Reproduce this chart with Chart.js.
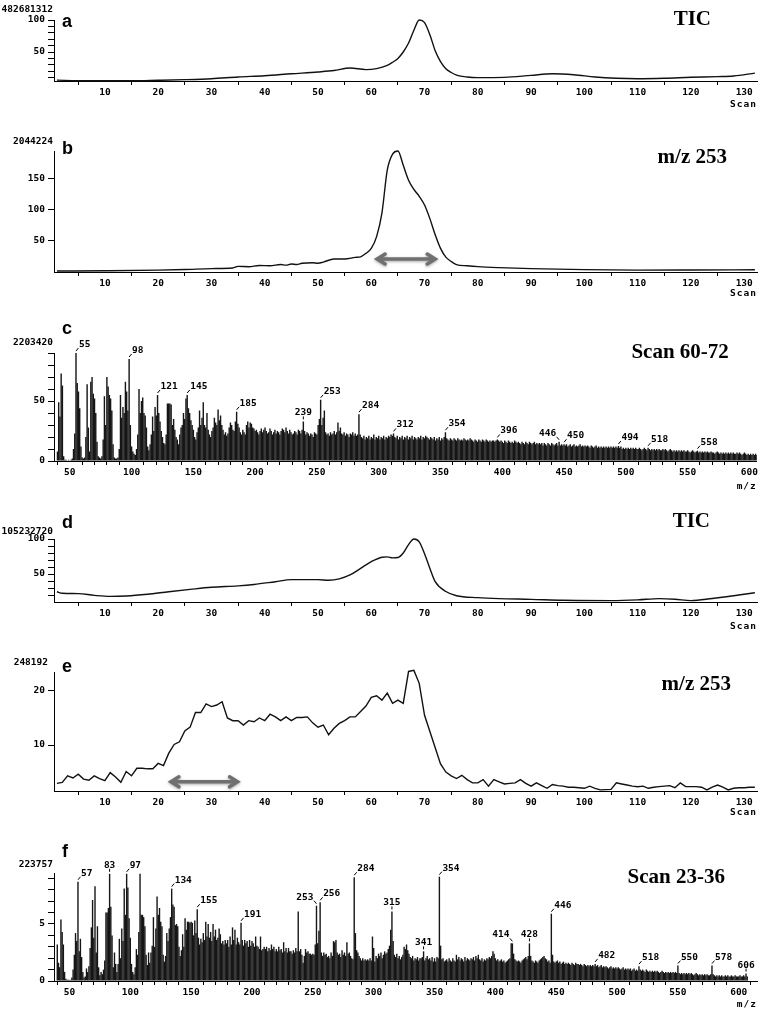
<!DOCTYPE html>
<html>
<head>
<meta charset="utf-8">
<script src="https://cdn.jsdelivr.net/npm/chart.js@4.4.1/dist/chart.umd.min.js"></script>
<style>
  html, body { margin: 0; padding: 0; background: #fff; }
  body { width: 760px; height: 1011px; position: relative; overflow: hidden; }
  canvas { position: absolute; left: 0; }
</style>
</head>
<body>
<canvas id="panelA" width="760" height="113" style="top:0px"></canvas>
<canvas id="panelB" width="760" height="189" style="top:115px"></canvas>
<canvas id="panelC" width="760" height="176" style="top:317px"></canvas>
<canvas id="panelD" width="760" height="131" style="top:503px"></canvas>
<canvas id="panelE" width="760" height="187" style="top:636px"></canvas>
<canvas id="panelF" width="760" height="176" style="top:837px"></canvas>
<script>
// ===== Data =====
// axis labels
const scanLabels = [10, 20, 30, 40, 50, 60, 70, 80, 90, 100, 110, 120, 130];
const mzLabels = [50, 100, 150, 200, 250, 300, 350, 400, 450, 500, 550, 600];

// a: TIC (first run)
const aScans  = [1, 5, 10, 15, 20, 25, 30, 35, 40, 45, 50, 53, 56, 59, 61, 63, 64, 65, 66, 67, 68, 69, 70, 71, 72, 73, 74, 75, 76, 78, 80, 85, 90, 94, 98, 102, 106, 110, 115, 120, 125, 128, 132];
const aValues = [6, 5.2, 5, 5, 5.8, 6.8, 8.3, 11, 13, 16, 18.8, 21, 25, 22.5, 24, 29, 34, 40, 50, 64, 84, 100, 96, 77, 52, 35, 24, 18, 14, 11, 10, 10.3, 13.5, 16, 14.5, 11, 9, 8.3, 9, 10.5, 11.5, 12.5, 17];
const aYTicks = [10, 20, 30, 40, 50, 60, 70, 80, 90, 100];

// b: m/z 253 (first run)
const bScans  = [1, 10, 20, 25, 30, 34, 35, 37, 39, 41, 43, 44, 45, 46, 47, 49, 50, 51, 53, 55, 57, 58, 59, 60, 61, 62, 63, 64, 65, 66, 67, 68, 69, 70, 71, 72, 73, 74, 75, 76, 78, 80, 84, 90, 100, 110, 120, 132];
const bValues = [1.5, 2, 3, 4, 5.5, 6.5, 9, 8.5, 10.5, 10, 12, 11, 13, 12, 14, 15, 14, 16, 21, 21, 23.5, 24.5, 30, 38, 57, 95, 164, 190, 195, 172, 148, 133, 122, 108, 86, 60, 38, 24, 17, 12, 10, 8.6, 7, 5.4, 3.8, 3, 3.2, 3.6];
const bYTicks = [50, 100, 150];

// c: spectrum scan 60-72, one value per m/z from 40
const cStart = 40;
const cSpectrum = [
  8, 49, 37, 73, 63, 4, 1, 1, 0, 1,
  0, 1, 2, 10, 23, 90, 65, 58, 44, 12,
  3, 2, 3, 20, 64, 28, 8, 66, 70, 56,
  52, 40, 16, 4, 3, 2, 4, 18, 54, 30,
  70, 62, 55, 52, 42, 14, 3, 2, 2, 3,
  10, 55, 36, 45, 40, 66, 58, 42, 85, 30,
  12, 8, 6, 5, 10, 22, 60, 40, 50, 53,
  40, 38, 28, 12, 9, 14, 22, 37, 25, 45,
  38, 55, 40, 33, 25, 20, 15, 14, 22, 48,
  48, 48, 47, 30, 35, 26, 20, 18, 14, 22,
  28, 30, 40, 35, 52, 55, 44, 40, 34, 30,
  26, 20, 18, 24, 28, 42, 30, 36, 49, 30,
  28, 40, 26, 22, 20, 25, 28, 36, 32, 30,
  43, 34, 38, 30, 26, 22, 24, 21, 23, 28,
  32, 30, 26, 25, 33, 41, 31, 28, 24, 22,
  26, 24, 22, 30, 33, 28, 32, 31, 28, 27,
  25, 26, 24, 22, 25, 27, 24, 26, 28, 25,
  23, 24, 27, 25, 22, 24, 26, 23, 25, 24,
  22, 25, 27, 26, 24, 28, 25, 23, 26, 24,
  22, 23, 25, 24, 22, 26, 25, 23, 26, 33,
  25, 22, 24, 23, 21, 23, 22, 20, 24, 23,
  22, 30, 35, 51, 30, 36, 42, 24, 22, 23,
  21, 24, 22, 23, 25, 22, 24, 32, 25, 28,
  23, 22, 24, 21, 23, 22, 20, 23, 22, 24,
  21, 23, 21, 22, 39, 22, 20, 19, 21, 18,
  20, 19, 21, 18, 20, 19, 22, 18, 20, 19,
  21, 18, 20, 19, 21, 18, 20, 19, 21, 20,
  22, 21, 23, 20, 19, 21, 18, 20, 19, 21,
  18, 20, 19, 21, 18, 20, 19, 21, 18, 20,
  19, 18, 20, 19, 21, 18, 20, 19, 21, 20,
  19, 18, 20, 19, 18, 20, 17, 19, 18, 20,
  17, 19, 18, 20, 24, 19, 18, 17, 19, 18,
  17, 19, 18, 17, 19, 18, 17, 18, 17, 19,
  18, 17, 18, 17, 19, 18, 17, 16, 18, 17,
  16, 18, 17, 16, 18, 17, 16, 18, 17, 16,
  17, 16, 17, 17, 16, 17, 18, 17, 16, 17,
  16, 15, 17, 16, 15, 17, 16, 15, 16, 15,
  17, 16, 15, 16, 15, 14, 16, 15, 14, 16,
  15, 14, 16, 15, 14, 15, 16, 14, 15, 14,
  15, 14, 15, 13, 15, 14, 13, 15, 14, 13,
  15, 14, 13, 14, 15, 13, 16, 13, 14, 13,
  14, 13, 14, 12, 13, 14, 12, 13, 14, 12,
  13, 12, 13, 14, 12, 13, 12, 13, 12, 13,
  12, 11, 13, 12, 11, 12, 13, 11, 12, 11,
  12, 11, 12, 11, 12, 11, 12, 11, 12, 11,
  12, 11, 12, 11, 12.5, 11, 12, 10, 11, 10,
  11, 10, 11, 10, 11, 10, 11, 10, 11, 10,
  10, 11, 10, 9, 10, 11, 10, 9, 11, 10,
  9, 10, 9, 10, 9, 10, 9, 10, 9, 9,
  10, 9, 10, 9, 8, 9, 10, 9, 8, 9,
  8, 9, 8, 9, 8, 9, 8, 9, 8, 8,
  9, 8, 7, 8, 9, 8, 7, 8, 8.6, 7,
  8, 7, 8, 7, 8, 7, 8, 7, 7, 8,
  7, 7, 6, 7, 8, 7, 6, 7, 6, 7,
  6, 7, 6, 7, 6, 7, 6, 7, 6, 6,
  7, 6, 7, 6, 5, 6, 7, 6, 5, 6,
  5, 6, 5, 6, 5, 6, 5, 5
];
const cPeakMz   = [55, 98, 121, 145, 185, 239, 253, 284, 312, 354, 396, 446, 450, 494, 518, 558];
const cPeakSide = ['r', 'r', 'r', 'r', 'r', 'c', 'r', 'r', 'r', 'r', 'r', 'l', 'r', 'r', 'r', 'r'];
const cYTicks = [0, 10, 20, 30, 40, 50, 60, 70, 80, 90];

// d: TIC (second run)
const dScans  = [1, 2, 5, 8, 11, 14, 18, 22, 26, 30, 35, 38, 42, 45, 50, 52, 54, 56, 58, 60, 62, 63, 64, 65, 66, 67, 68, 69, 70, 71, 72, 74, 76, 80, 84, 90, 96, 105, 110, 114, 117, 120, 124, 127, 132];
const dValues = [24.7, 22.4, 22, 19.5, 18, 18.5, 21, 24.7, 28, 31, 33, 35, 39, 42, 42, 41, 43, 48.6, 58, 67.6, 74, 74.5, 73, 73.5, 80, 92, 100, 96, 79, 58, 39, 25, 19, 16.2, 14.8, 13.8, 12.4, 12, 13, 14.8, 14, 12, 15, 17.8, 23.3];
const dYTicks = [20, 30, 40, 50, 60, 70, 80, 90, 100];

// e: m/z 253 (second run), one value per scan from scan 1
const eValues = [
  2.9, 3.1, 4.3, 3.9, 4.6, 3.7, 3.5, 4.3, 3.8, 3.4,
  4.9, 4.1, 3.1, 5.1, 4.3, 5.7, 5.7, 5.6, 5.6, 6.6,
  6.2, 8.5, 10.1, 10.6, 12.6, 13.3, 16, 16, 17.6, 17.1,
  17.4, 18, 15, 14.5, 14.5, 13.7, 14.5, 14.3, 15, 14.5,
  15.7, 15.2, 14.5, 15.2, 14.5, 15.1, 15.1, 15.2, 14.1, 13.3,
  13.7, 11.9, 13.1, 14, 14.5, 15.2, 15.2, 16.2, 17.2, 18.8,
  19.1, 18.3, 19.6, 17.7, 18.3, 17.7, 23.6, 23.8, 21.4, 15.5,
  12.5, 9.5, 6.5, 5, 4.3, 3.8, 4.4, 3.6, 3, 3,
  3.6, 2.4, 3.6, 3.2, 2.8, 2.9, 3, 3.6, 2.9, 2.4,
  3, 2.5, 2, 2.7, 2.5, 2.4, 2.2, 2.2, 2.1, 2,
  2.4, 2, 1.7, 1.75, 1.8, 3, 2.8, 2.6, 2.4, 2.3,
  2.4, 2, 2.2, 2.3, 2.4, 2.5, 2.1, 3, 2.3, 2.3,
  2.3, 2.2, 1.7, 2.2, 2.6, 2.2, 1.7, 2, 2.1, 2.1,
  2.2, 2.2
];
const eYTicks = [10, 20];

// f: spectrum scan 23-36, one value per m/z from 40
const fStart = 40;
const fSpectrum = [
  3.2, 1.6, 1.2, 5.4, 4.3, 3.2, 0.8, 0.2, 0.1, 0.1,
  0.1, 0.1, 0.3, 1.0, 2.3, 4.2, 3.5, 8.7, 2.6, 3.7,
  2.1, 0.8, 0.3, 0.4, 1.1, 0.8, 1.3, 2.9, 4.7, 7.1,
  3.8, 8.3, 2.5, 4.8, 1.2, 0.5, 0.8, 0.6, 1.0, 1.8,
  6.0, 6.0, 6.4, 9.4, 6.5, 4.0, 1.2, 2.5, 1.5, 0.8,
  1.5, 3.7, 2.0, 4.6, 3.5, 8.1, 5.8, 9.4, 8.2, 5.5,
  3.8, 1.5, 0.8, 0.6, 1.2, 2.8, 2.3, 4.3, 9.4, 5.8,
  5.8, 5.6, 4.8, 2.3, 1.4, 2.5, 1.6, 2.5, 3.1, 5.6,
  3.0, 4.6, 7.4, 5.8, 6.4, 5.2, 4.8, 2.3, 1.7, 2.2,
  4.2, 3.5, 4.6, 5.6, 8.1, 6.7, 6.5, 4.9, 5.0, 4.8,
  3.0, 2.2, 2.7, 4.1, 3.0, 5.5, 4.5, 5.2, 5.2, 5.1,
  5.2, 5.1, 4.0, 5.3, 4.2, 6.3, 3.8, 3.2, 3.7, 3.4,
  4.2, 3.6, 5.2, 3.9, 5.0, 3.8, 4.3, 3.5, 5.0, 3.9,
  4.5, 3.6, 3.8, 4.6, 4.1, 3.3, 3.5, 3.2, 3.6, 3.3,
  3.6, 3.0, 3.9, 3.2, 4.7, 3.6, 4.5, 3.2, 3.8, 3.4,
  3.2, 5.1, 3.6, 3.1, 3.6, 3.3, 3.5, 3.0, 3.6, 3.1,
  3.5, 3.3, 3.0, 3.9, 3.1, 3.0, 2.8, 3.9, 2.7, 2.8,
  3.0, 2.8, 3.0, 2.6, 2.9, 2.7, 3.2, 2.8, 3.0, 2.6,
  2.8, 2.6, 3.0, 2.7, 2.8, 2.5, 3.4, 2.6, 2.9, 2.5,
  2.9, 2.6, 2.6, 2.4, 2.7, 2.5, 2.9, 2.6, 6.1, 2.6,
  2.8, 2.3, 1.6, 2.2, 2.8, 2.5, 2.6, 2.4, 2.4, 2.3,
  2.4, 2.3, 3.2, 6.6, 3.3, 4.4, 6.9, 2.5, 2.2, 2.5,
  2.3, 2.4, 2.1, 2.2, 2.0, 2.5, 2.2, 3.5, 3.4, 3.6,
  2.5, 2.3, 2.4, 2.1, 2.7, 2.3, 2.5, 2.2, 3.4, 2.4,
  2.5, 2.2, 2.0, 1.9, 9.1, 4.2, 2.7, 2.5, 2.2, 2.0,
  1.8, 2.0, 1.8, 1.9, 1.8, 1.9, 1.8, 2.0, 1.8, 3.9,
  2.9, 1.7, 2.2, 2.0, 2.4, 2.2, 2.5, 2.0, 2.3, 2.6,
  2.4, 2.5, 2.8, 3.1, 4.5, 6.1, 3.5, 2.3, 2.1, 2.4,
  2.0, 2.2, 1.9, 2.1, 2.3, 3.0, 2.8, 3.2, 2.7, 2.4,
  2.1, 2.0, 2.2, 1.8, 2.0, 1.9, 2.1, 1.8, 2.0, 2.0,
  2.1, 2.6, 1.8, 2.0, 2.2, 1.9, 2.0, 1.8, 2.1, 1.7,
  2.0, 1.7, 2.1, 2.0, 9.15, 3.1, 1.9, 2.0, 1.7, 1.8,
  1.9, 1.7, 2.0, 1.8, 1.7, 2.0, 1.8, 1.7, 2.3, 1.9,
  2.1, 1.8, 2.0, 1.9, 1.7, 2.1, 1.8, 2.0, 1.9, 1.8,
  2.0, 1.9, 2.1, 1.8, 2.2, 2.0, 2.3, 1.9, 1.8, 2.0,
  1.7, 1.9, 1.8, 2.0, 1.9, 2.1, 2.0, 2.2, 2.6, 2.4,
  2.0, 1.8, 1.9, 1.7, 1.8, 1.9, 1.7, 1.8, 1.6, 1.7,
  1.8, 1.9, 2.0, 3.3, 3.3, 2.4, 1.9, 1.8, 1.7, 1.8,
  1.7, 1.6, 1.8, 1.9, 2.0, 2.1, 1.9, 2.2, 3.3, 2.2,
  1.8, 1.7, 1.6, 1.8, 1.7, 1.6, 1.8, 1.9, 2.0, 2.1,
  2.2, 2.0, 1.9, 1.7, 1.8, 1.6, 5.9, 2.3, 1.7, 1.6,
  1.7, 1.8, 1.6, 1.7, 1.5, 1.6, 1.7, 1.5, 1.6, 1.5,
  1.6, 1.5, 1.4, 1.6, 1.5, 1.4, 1.6, 1.5, 1.5, 1.4,
  1.5, 1.4, 1.3, 1.5, 1.4, 1.3, 1.4, 1.3, 1.4, 1.3,
  1.4, 1.3, 1.5, 1.3, 1.4, 1.2, 1.3, 1.4, 1.2, 1.3,
  1.2, 1.3, 1.2, 1.1, 1.2, 1.3, 1.1, 1.2, 1.1, 1.2,
  1.1, 1.2, 1.1, 1.0, 1.1, 1.2, 1.0, 1.1, 1.0, 1.1,
  1.0, 1.1, 0.9, 1.0, 1.1, 0.9, 1.0, 0.9, 1.3, 1.0,
  0.9, 1.0, 0.9, 0.8, 1.0, 0.9, 0.8, 0.9, 0.8, 0.9,
  0.8, 0.9, 0.8, 0.9, 0.8, 0.7, 0.8, 0.9, 0.8, 0.7,
  0.8, 0.7, 0.8, 0.7, 0.8, 0.7, 0.8, 0.7, 0.8, 0.7,
  1.35, 0.7, 0.6, 0.7, 0.6, 0.7, 0.6, 0.7, 0.6, 0.7,
  0.6, 0.7, 0.6, 0.5, 0.6, 0.7, 0.6, 0.5, 0.6, 0.5,
  0.6, 0.5, 0.6, 0.5, 0.6, 0.5, 0.5, 0.6, 1.35, 0.6,
  0.5, 0.4, 0.5, 0.4, 0.5, 0.4, 0.5, 0.4, 0.4, 0.5,
  0.4, 0.5, 0.4, 0.4, 0.5, 0.4, 0.4, 0.5, 0.4, 0.4,
  0.4, 0.5, 0.4, 0.4, 0.5, 0.4, 0.65, 0.4
];
const fPeakMz   = [57, 83, 97, 134, 155, 191, 253, 256, 284, 315, 341, 354, 414, 428, 446, 482, 518, 550, 578, 606];
const fPeakSide = ['r', 'c', 'r', 'r', 'r', 'r', 'l', 'r', 'r', 'c', 'c', 'r', 'l', 'c', 'r', 'r', 'r', 'r', 'r', 'c'];
const fYTicks = [0, 1, 2, 3, 4, 5, 6, 7, 8, 9];

// ===== Styles =====
const MONO = "'DejaVu Sans Mono', monospace";
const TICK_FONT = { family: MONO, size: 9.5, weight: 'bold' };
const SMALL_FONT = "bold 9.5px 'DejaVu Sans Mono', monospace";
const LETTER_FONT = "bold 18px 'Liberation Sans', Arial, sans-serif";
const TITLE_FONT = "bold 21px 'Liberation Serif', 'Times New Roman', serif";

// ===== Axes =====
function tickList(from, to, step) {
  const out = [];
  for (let v = from; v <= to + 1e-9; v += step) out.push(Math.round(v * 1000) / 1000);
  return out;
}

function xAxis(min, max, step, labels) {
  const ticks = tickList(step * Math.ceil(min / step), max, step);
  return {
    type: 'linear', min, max, offset: false,
    afterFit: a => { a.height = 32; },
    afterBuildTicks: a => { a.ticks = ticks.map(v => ({ value: v })); },
    grid: {
      drawOnChartArea: false, drawTicks: true, tickLength: 4, color: '#000', offset: false,
      // labelled positions carry no tick mark in the original
      tickColor: c => (c.tick && labels.includes(c.tick.value)) ? 'rgba(0,0,0,0)' : '#000'
    },
    border: { display: true, color: '#000', width: 1 },
    ticks: {
      autoSkip: false, maxRotation: 0, minRotation: 0, padding: 2, color: '#000', font: TICK_FONT,
      callback: v => labels.includes(v) ? String(v) : ''
    }
  };
}

function yAxis(min, max, ticks, labels) {
  return {
    type: 'linear', min, max,
    afterFit: a => { a.width = 54; },
    afterBuildTicks: a => { a.ticks = ticks.map(v => ({ value: v })); },
    grid: { drawOnChartArea: false, drawTicks: true, tickLength: 6, color: '#000' },
    border: { display: true, color: '#000', width: 1 },
    ticks: {
      autoSkip: false, padding: 3, color: '#000', font: TICK_FONT,
      callback: v => labels.includes(v) ? String(v) : ''
    }
  };
}

// ===== Extra drawing: labels, peak marks, arrows =====
function drawPeaks(ctx, scales, p) {
  ctx.font = SMALL_FONT;
  ctx.textBaseline = 'alphabetic';
  ctx.strokeStyle = '#000';
  ctx.lineWidth = 1;
  p.mz.forEach((mz, i) => {
    const x = scales.x.getPixelForValue(mz);
    const y = scales.y.getPixelForValue(p.values[mz - p.start]);
    const side = p.side[i];
    const lean = side === 'r' ? 2.5 : side === 'l' ? -2.5 : 0;
    ctx.beginPath();
    ctx.moveTo(x, y - 2);
    ctx.lineTo(x + lean, y - 5);
    ctx.stroke();
    ctx.textAlign = side === 'r' ? 'left' : side === 'l' ? 'right' : 'center';
    ctx.fillText(String(mz), x + lean * 1.2, y - 6);
  });
}

function drawArrow(ctx, scales, a) {
  const x1 = scales.x.getPixelForValue(a.from);
  const x2 = scales.x.getPixelForValue(a.to);
  const y = scales.y.getPixelForValue(a.at);
  ctx.save();
  ctx.strokeStyle = '#707070';
  ctx.lineWidth = 3.5;
  ctx.lineCap = 'round';
  ctx.shadowColor = 'rgba(0,0,0,0.35)';
  ctx.shadowBlur = 3;
  ctx.shadowOffsetY = 1;
  ctx.beginPath();
  ctx.moveTo(x1 + 1, y); ctx.lineTo(x2 - 1, y);
  ctx.moveTo(x1 + 8, y - 5); ctx.lineTo(x1, y); ctx.lineTo(x1 + 8, y + 5);
  ctx.moveTo(x2 - 8, y - 5); ctx.lineTo(x2, y); ctx.lineTo(x2 - 8, y + 5);
  ctx.stroke();
  ctx.restore();
}

const decor = {
  id: 'decor',
  afterDraw(chart, args, o) {
    const { ctx, chartArea: area, scales } = chart;
    ctx.save();
    ctx.fillStyle = '#000';
    ctx.textBaseline = 'middle';

    ctx.font = SMALL_FONT;
    ctx.textAlign = 'right';
    ctx.fillText(o.scale, area.left - 1 - (o.scaleShift || 0), area.top + o.scaleDy);

    ctx.font = LETTER_FONT;
    ctx.textAlign = 'left';
    ctx.fillText(o.letter, area.left + 8, area.top + o.letterDy);

    ctx.font = TITLE_FONT;
    ctx.textAlign = 'right';
    ctx.fillText(o.title, area.right - o.titleRight, area.top + o.titleDy);

    ctx.font = SMALL_FONT;
    ctx.letterSpacing = '1px';
    ctx.fillText(o.unit, area.right, area.bottom + o.unitDy);
    ctx.letterSpacing = '0px';

    if (o.peaks) drawPeaks(ctx, scales, o.peaks);
    if (o.arrow) drawArrow(ctx, scales, o.arrow);
    ctx.restore();
  }
};

// ===== Datasets =====
function curve(xs, ys, smooth) {
  return {
    type: 'line',
    data: xs.map((x, i) => ({ x, y: ys[i] })),
    borderColor: '#111', borderWidth: 1.4, pointRadius: 0, fill: false, clip: false,
    cubicInterpolationMode: smooth ? 'monotone' : 'default', tension: 0
  };
}

function spectrum(start, values) {
  return {
    type: 'bar',
    data: values.map((v, i) => ({ x: start + i, y: v })),
    backgroundColor: '#161616', borderWidth: 0,
    barPercentage: 1.15, categoryPercentage: 1, grouped: false
  };
}

function makeChart(id, padTop, datasets, x, y, decorOpts) {
  return new Chart(document.getElementById(id), {
    type: datasets[0].type,
    data: { datasets },
    options: {
      responsive: false, animation: false, devicePixelRatio: 1,
      layout: { padding: { top: padTop, right: 3, left: 0, bottom: 0 } },
      scales: { x, y },
      plugins: { legend: { display: false }, tooltip: { enabled: false }, decor: decorOpts }
    },
    plugins: [decor]
  });
}

// ===== Panels =====
const SCAN_MIN = 0.45, SCAN_MAX = 132.4;

makeChart('panelA', 20, [curve(aScans, aValues, true)],
  xAxis(SCAN_MIN, SCAN_MAX, 5, scanLabels), yAxis(4.7, 100, aYTicks, [50, 100]),
  { scale: '482681312', scaleDy: -10, letter: 'a', letterDy: 2, title: 'TIC', titleRight: 46, titleDy: 0, unit: 'Scan', unitDy: 24 });

makeChart('panelB', 36, [curve(bScans, bValues, true)],
  xAxis(SCAN_MIN, SCAN_MAX, 5, scanLabels), yAxis(0, 195, bYTicks, bYTicks),
  { scale: '2044224', scaleDy: -9, letter: 'b', letterDy: -2, title: 'm/z 253', titleRight: 30, titleDy: 7, unit: 'Scan', unitDy: 22,
    arrow: { from: 61.1, to: 72, at: 21 } });

makeChart('panelC', 36, [spectrum(cStart, cSpectrum)],
  xAxis(37.2, 606, 10, mzLabels), yAxis(0, 90, cYTicks, [0, 50]),
  { scale: '2203420', scaleDy: -10, letter: 'c', letterDy: -24, title: 'Scan 60-72', titleRight: 28, titleDy: 0, unit: 'm/z', unitDy: 26,
    peaks: { mz: cPeakMz, side: cPeakSide, values: cSpectrum, start: cStart } });

makeChart('panelD', 36, [curve(dScans, dValues, true)],
  xAxis(SCAN_MIN, SCAN_MAX, 5, scanLabels), yAxis(10, 100, dYTicks, [50, 100]),
  { scale: '105232720', scaleDy: -7, letter: 'd', letterDy: -16, title: 'TIC', titleRight: 47, titleDy: -17, unit: 'Scan', unitDy: 25 });

makeChart('panelE', 36, [curve(eValues.map((v, i) => i + 1), eValues, false)],
  xAxis(SCAN_MIN, SCAN_MAX, 5, scanLabels), yAxis(1.5, 23.5, eYTicks, eYTicks),
  { scale: '248192', scaleDy: -9, scaleShift: 5, letter: 'e', letterDy: -5, title: 'm/z 253', titleRight: 26, titleDy: 13, unit: 'Scan', unitDy: 22,
    arrow: { from: 22.4, to: 34.9, at: 3.2 } });

makeChart('panelF', 36, [spectrum(fStart, fSpectrum)],
  xAxis(37.3, 615, 10, mzLabels), yAxis(0, 9.47, fYTicks, [0, 5]),
  { scale: '223757', scaleDy: -8, letter: 'f', letterDy: -21, title: 'Scan 23-36', titleRight: 32, titleDy: 5, unit: 'm/z', unitDy: 24,
    peaks: { mz: fPeakMz, side: fPeakSide, values: fSpectrum, start: fStart } });
</script>
</body>
</html>
